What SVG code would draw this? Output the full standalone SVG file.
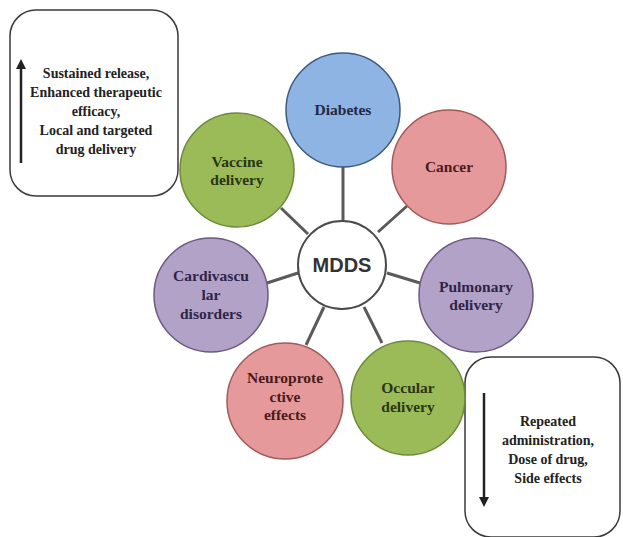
<svg xmlns="http://www.w3.org/2000/svg" width="623" height="537" viewBox="0 0 623 537">
<defs>
<style>
.box{fill:#fff;stroke:#3a3a3a;stroke-width:1.5}
.t{font-family:"Liberation Serif","Times New Roman",serif;font-weight:bold;font-size:15.5px;text-anchor:middle}
.bt{font-family:"Liberation Serif","Times New Roman",serif;font-weight:bold;font-size:14px;text-anchor:middle;fill:#222}
.c{stroke-width:1.5}
.conn line{stroke:#5a5a5a;stroke-width:3}
</style>
<marker id="ah" viewBox="0 0 10 10" refX="5" refY="5" markerWidth="4" markerHeight="4" orient="auto-start-reverse"><path d="M0,0 L10,5 L0,10 z" fill="#222"/></marker>
</defs>
<rect width="623" height="537" fill="#fff"/>
<g id="connectors" class="conn">
<line x1="343" y1="166" x2="343" y2="222"/>
<line x1="281" y1="208" x2="308" y2="234"/>
<line x1="407" y1="206" x2="378" y2="232"/>
<line x1="267" y1="283" x2="298" y2="273"/>
<line x1="387" y1="273" x2="420" y2="283"/>
<line x1="324" y1="307" x2="306" y2="345"/>
<line x1="364" y1="307" x2="382" y2="343"/>
</g>
<g id="box-top">
<rect class="box" x="10" y="10" width="168" height="186" rx="26"/>
<line x1="21" y1="163" x2="21" y2="64" stroke="#222" stroke-width="2.5" marker-end="url(#ah)"/>
<text class="bt" x="96" y="78">Sustained release,</text>
<text class="bt" x="96" y="97">Enhanced therapeutic</text>
<text class="bt" x="96" y="116">efficacy,</text>
<text class="bt" x="96" y="135">Local and targeted</text>
<text class="bt" x="96" y="154">drug delivery</text>
</g>
<g id="box-bottom">
<rect class="box" x="465" y="357" width="155" height="180" rx="26"/>
<line x1="484" y1="393" x2="484" y2="502" stroke="#222" stroke-width="2.5" marker-end="url(#ah)"/>
<text class="bt" x="548" y="426">Repeated</text>
<text class="bt" x="548" y="445">administration,</text>
<text class="bt" x="548" y="464">Dose of drug,</text>
<text class="bt" x="548" y="483">Side effects</text>
</g>
<g id="diabetes">
<circle class="c" cx="343" cy="110" r="57" fill="#8db4e2" stroke="#3d5a80"/>
<text class="t" x="343" y="115" fill="#1f2a4a">Diabetes</text>
</g>
<g id="vaccine">
<circle class="c" cx="237" cy="170" r="57" fill="#9bbb59" stroke="#6b8a3a"/>
<text class="t" x="237" y="167" fill="#2a3512">Vaccine</text>
<text class="t" x="237" y="185" fill="#2a3512">delivery</text>
</g>
<g id="cancer">
<circle class="c" cx="449" cy="167" r="57" fill="#e6999a" stroke="#a05a5a"/>
<text class="t" x="449" y="172" fill="#4a1a1a">Cancer</text>
</g>
<g id="mdds">
<circle cx="342" cy="265" r="44" fill="#fff" stroke="#4a4a4a" stroke-width="2"/>
<text x="342" y="272" font-family="'Liberation Sans',Arial,sans-serif" font-weight="bold" font-size="20" text-anchor="middle" fill="#333">MDDS</text>
</g>
<g id="cardio">
<circle class="c" cx="211" cy="295" r="57" fill="#b3a2c7" stroke="#6a5a80"/>
<text class="t" x="211" y="281" fill="#2e2447">Cardivascu</text>
<text class="t" x="211" y="300" fill="#2e2447">lar</text>
<text class="t" x="211" y="319" fill="#2e2447">disorders</text>
</g>
<g id="pulmonary">
<circle class="c" cx="476" cy="295" r="57" fill="#b3a2c7" stroke="#6a5a80"/>
<text class="t" x="476" y="292" fill="#2e2447">Pulmonary</text>
<text class="t" x="476" y="310" fill="#2e2447">delivery</text>
</g>
<g id="neuro">
<circle class="c" cx="285" cy="401" r="58" fill="#e6999a" stroke="#a05a5a"/>
<text class="t" x="285" y="383" fill="#4a1a1a">Neuroprote</text>
<text class="t" x="285" y="402" fill="#4a1a1a">ctive</text>
<text class="t" x="285" y="420" fill="#4a1a1a">effects</text>
</g>
<g id="occular">
<circle class="c" cx="408" cy="398" r="57" fill="#9bbb59" stroke="#6b8a3a"/>
<text class="t" x="408" y="393" fill="#2a3512">Occular</text>
<text class="t" x="408" y="412" fill="#2a3512">delivery</text>
</g>
</svg>
